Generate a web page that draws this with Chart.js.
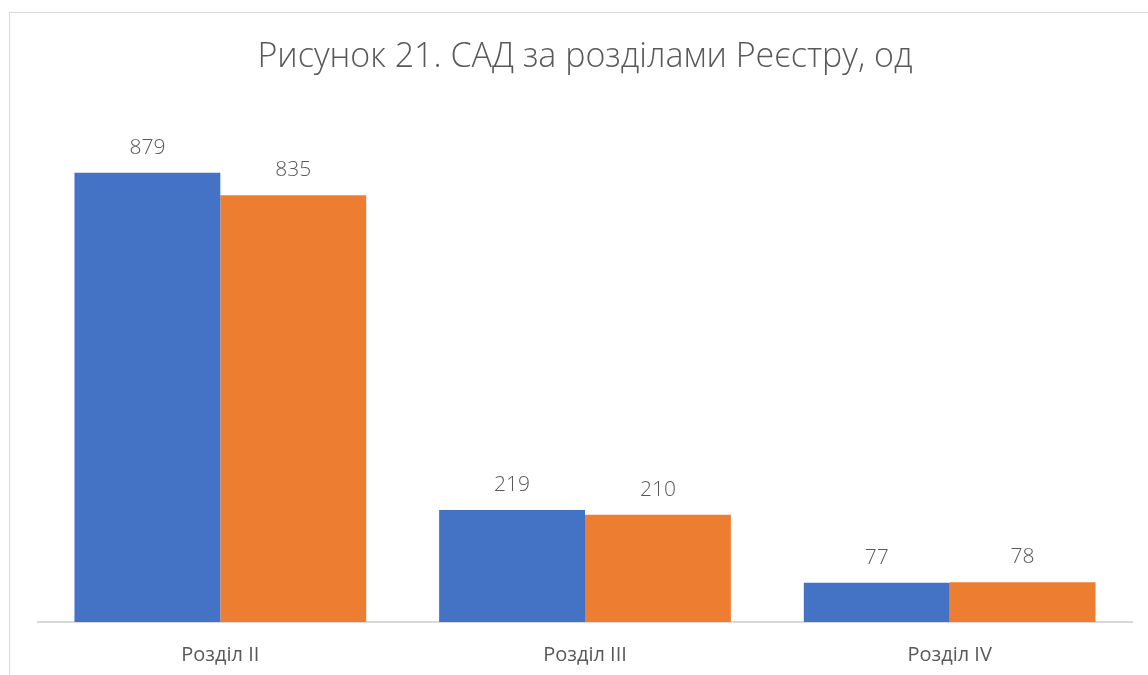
<!DOCTYPE html>
<html>
<head>
<meta charset="utf-8">
<script src="https://cdn.jsdelivr.net/npm/chart.js@4"></script>
<style>
  html, body { margin: 0; padding: 0; background: #fff; overflow: hidden; }
  #wrap { position: relative; width: 1148px; height: 675px; }
  #frame { position: absolute; left: 9px; top: 12px; width: 1200px; height: 700px; border: 1px solid #d9d9d9; box-sizing: border-box; }
  canvas { position: absolute; left: 0; top: 0; }
</style>
</head>
<body>
<div id="wrap">
  <div id="frame"></div>
  <canvas id="aChart" width="1148" height="675"></canvas>
</div>
<script>
let categories = ["Розділ II", "Розділ III", "Розділ IV"];
let seriesA = [879, 219, 77];
let seriesB = [835, 210, 78];

let textColor = "#595959";
let fontFamily = "'Open Sans', 'Noto Sans', sans-serif";

// values over each bar
let valueLabels = {
  id: "valueLabels",
  afterDatasetsDraw(chart) {
    let ctx = chart.ctx;
    ctx.save();
    ctx.fillStyle = textColor;
    ctx.font = "300 21px " + fontFamily;
    ctx.textAlign = "center";
    ctx.textBaseline = "middle";
    chart.data.datasets.forEach((ds, i) => {
      chart.getDatasetMeta(i).data.forEach((bar, j) => {
        ctx.fillText(ds.data[j], bar.x, bar.y - 25);
      });
    });
    ctx.restore();
  }
};

let aChart = new Chart(document.getElementById("aChart"), {
  type: "bar",
  data: {
    labels: categories,
    datasets: [
      { data: seriesA, backgroundColor: "#4472C4", categoryPercentage: 0.8, barPercentage: 1.0 },
      { data: seriesB, backgroundColor: "#ED7D31", categoryPercentage: 0.8, barPercentage: 1.0 },
    ],
  },
  options: {
    responsive: false,
    animation: false,
    layout: { padding: { left: 38, right: 16, top: 0, bottom: 0 } },
    plugins: {
      legend: { display: false },
      tooltip: { enabled: false },
      title: {
        display: true,
        text: "Рисунок 21. САД за розділами Реєстру, од",
        color: textColor,
        font: { family: fontFamily, size: 34, weight: "300" },
        padding: { top: 37, bottom: 33 },
      },
    },
    scales: {
      x: {
        grid: { display: false, drawTicks: false },
        border: { display: true, color: "#d9d9d9", width: 2 },
        ticks: { color: textColor, font: { family: fontFamily, size: 20 }, padding: 21 },
        afterFit(scale) { scale.height = 53; },
      },
      y: {
        display: false,
        min: 0,
        max: 1000,
      },
    },
  },
  plugins: [valueLabels],
});
</script>
</body>
</html>
